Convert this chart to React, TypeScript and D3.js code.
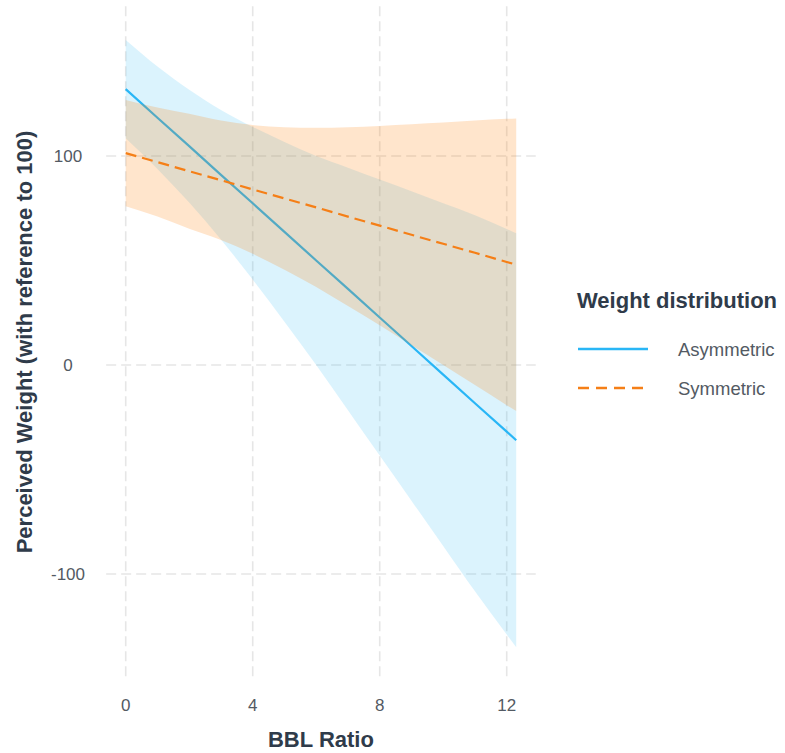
import React from "react";
import * as d3 from "d3";

// BBL ratio grid at which the fitted values were read
const bblRatio = [0, 1, 2, 3, 4, 5, 6, 7, 8, 9, 10, 11, 12, 12.3];

// Asymmetric weight distribution: fit and 95% band
const asymFit = [132, 118.3, 104.7, 91, 77.4, 63.7, 50, 36.4, 22.7, 9.1, -4.6, -18.3, -31.9, -36];
const asymLo = [108.5, 93.8, 77.7, 60, 40.9, 20.7, 0, -21.6, -43.3, -64.9, -86.6, -108.3, -128.9, -135];
const asymHi = [155.5, 142.8, 131.7, 122, 113.9, 106.7, 100, 94.4, 88.7, 83.1, 77.4, 71.7, 65.1, 63];

// Symmetric weight distribution: fit and 95% band
const symFit = [101.4, 97.1, 92.7, 88.4, 84, 79.7, 75.4, 71, 66.7, 62.3, 58, 53.7, 49.3, 48];
const symLo = [76, 71, 65.2, 59.8, 53.2, 45.6, 37.3, 28.2, 19, 9.4, 0, -9.6, -19.2, -22];
const symHi = [126.8, 123.2, 120.2, 117, 114.8, 113.8, 113.5, 113.8, 114.4, 115.2, 116, 117, 117.8, 118];

const xTicks = [0, 4, 8, 12];
const yTicks = [-100, 0, 100];
const seriesNames = ["Asymmetric", "Symmetric"];
const seriesColors = ["#29B6F6", "#F57F17"];
const bandColors = ["#29B6F6", "#FF7F00"];

const W = 785;
const H = 753;

export default function App() {
  const x = d3.scaleLinear().domain([0, 12]).range([125.7, 506.7]);
  const y = d3.scaleLinear().domain([-100, 100]).range([574, 156]);
  const panelX0 = x(-0.615);
  const panelX1 = x(12.915);
  const panelY0 = y(171.6);
  const panelY1 = y(-149.6);

  type P = { x: number; lo: number; hi: number; fit: number };
  const mk = (fit: number[], lo: number[], hi: number[]): P[] =>
    bblRatio.map((b, i) => ({ x: b, lo: lo[i], hi: hi[i], fit: fit[i] }));
  const asym = mk(asymFit, asymLo, asymHi);
  const sym = mk(symFit, symLo, symHi);

  const area = d3
    .area<P>()
    .x((d) => x(d.x))
    .y0((d) => y(d.lo))
    .y1((d) => y(d.hi))
    .curve(d3.curveMonotoneX);
  const line = d3
    .line<P>()
    .x((d) => x(d.x))
    .y((d) => y(d.fit));

  const titleColor = "#2F3B4A";
  const tickColor = "#535A63";
  const font = "'Liberation Sans', Arial, sans-serif";

  return (
    <svg
      width={W}
      height={H}
      style={{ position: "absolute", left: 0, top: 0, background: "#fff" }}
      fontFamily={font}
    >
      {/* grid */}
      <g stroke="#E6E6E6" strokeWidth={1.6} strokeDasharray="10,5" fill="none">
        {yTicks.map((t) => (
          <line key={"gy" + t} x1={panelX0} x2={panelX1} y1={y(t)} y2={y(t)} />
        ))}
        {xTicks.map((t) => (
          <line key={"gx" + t} x1={x(t)} x2={x(t)} y1={panelY0} y2={panelY1} />
        ))}
      </g>

      {/* asymmetric ribbon + line */}
      <path d={area(asym) || ""} fill={bandColors[0]} fillOpacity={0.17} />
      <path d={line(asym) || ""} fill="none" stroke={seriesColors[0]} strokeWidth={2.2} />
      {/* symmetric ribbon + line */}
      <path d={area(sym) || ""} fill={bandColors[1]} fillOpacity={0.2} />
      <path
        d={line(sym) || ""}
        fill="none"
        stroke={seriesColors[1]}
        strokeWidth={2.2}
        strokeDasharray="11,6"
      />

      {/* x tick labels */}
      {xTicks.map((t) => (
        <text key={"xt" + t} x={x(t)} y={711} textAnchor="middle" fontSize={17} fill={tickColor}>
          {t}
        </text>
      ))}
      {/* y tick labels */}
      {yTicks.map((t) => (
        <text
          key={"yt" + t}
          x={68}
          y={y(t)}
          dy="0.36em"
          textAnchor="middle"
          fontSize={17}
          fill={tickColor}
        >
          {t}
        </text>
      ))}

      {/* axis titles */}
      <text
        x={(panelX0 + panelX1) / 2}
        y={747}
        textAnchor="middle"
        fontSize={22}
        fontWeight="bold"
        fill={titleColor}
      >
        BBL Ratio
      </text>
      <text
        transform={`translate(32, ${(panelY0 + panelY1) / 2}) rotate(-90)`}
        textAnchor="middle"
        fontSize={22}
        fontWeight="bold"
        fill={titleColor}
      >
        Perceived Weight (with reference to 100)
      </text>

      {/* legend */}
      <text x={577} y={308} fontSize={22} fontWeight="bold" fill={titleColor}>
        Weight distribution
      </text>
      {seriesNames.map((name, i) => {
        const ly = 349 + i * 39;
        return (
          <g key={name}>
            <line
              x1={578}
              x2={648}
              y1={ly}
              y2={ly}
              stroke={seriesColors[i]}
              strokeWidth={2.6}
              strokeDasharray={i === 1 ? "11,7" : undefined}
            />
            <text x={678} y={ly} dy="0.36em" fontSize={18.5} fill={tickColor}>
              {name}
            </text>
          </g>
        );
      })}
    </svg>
  );
}
